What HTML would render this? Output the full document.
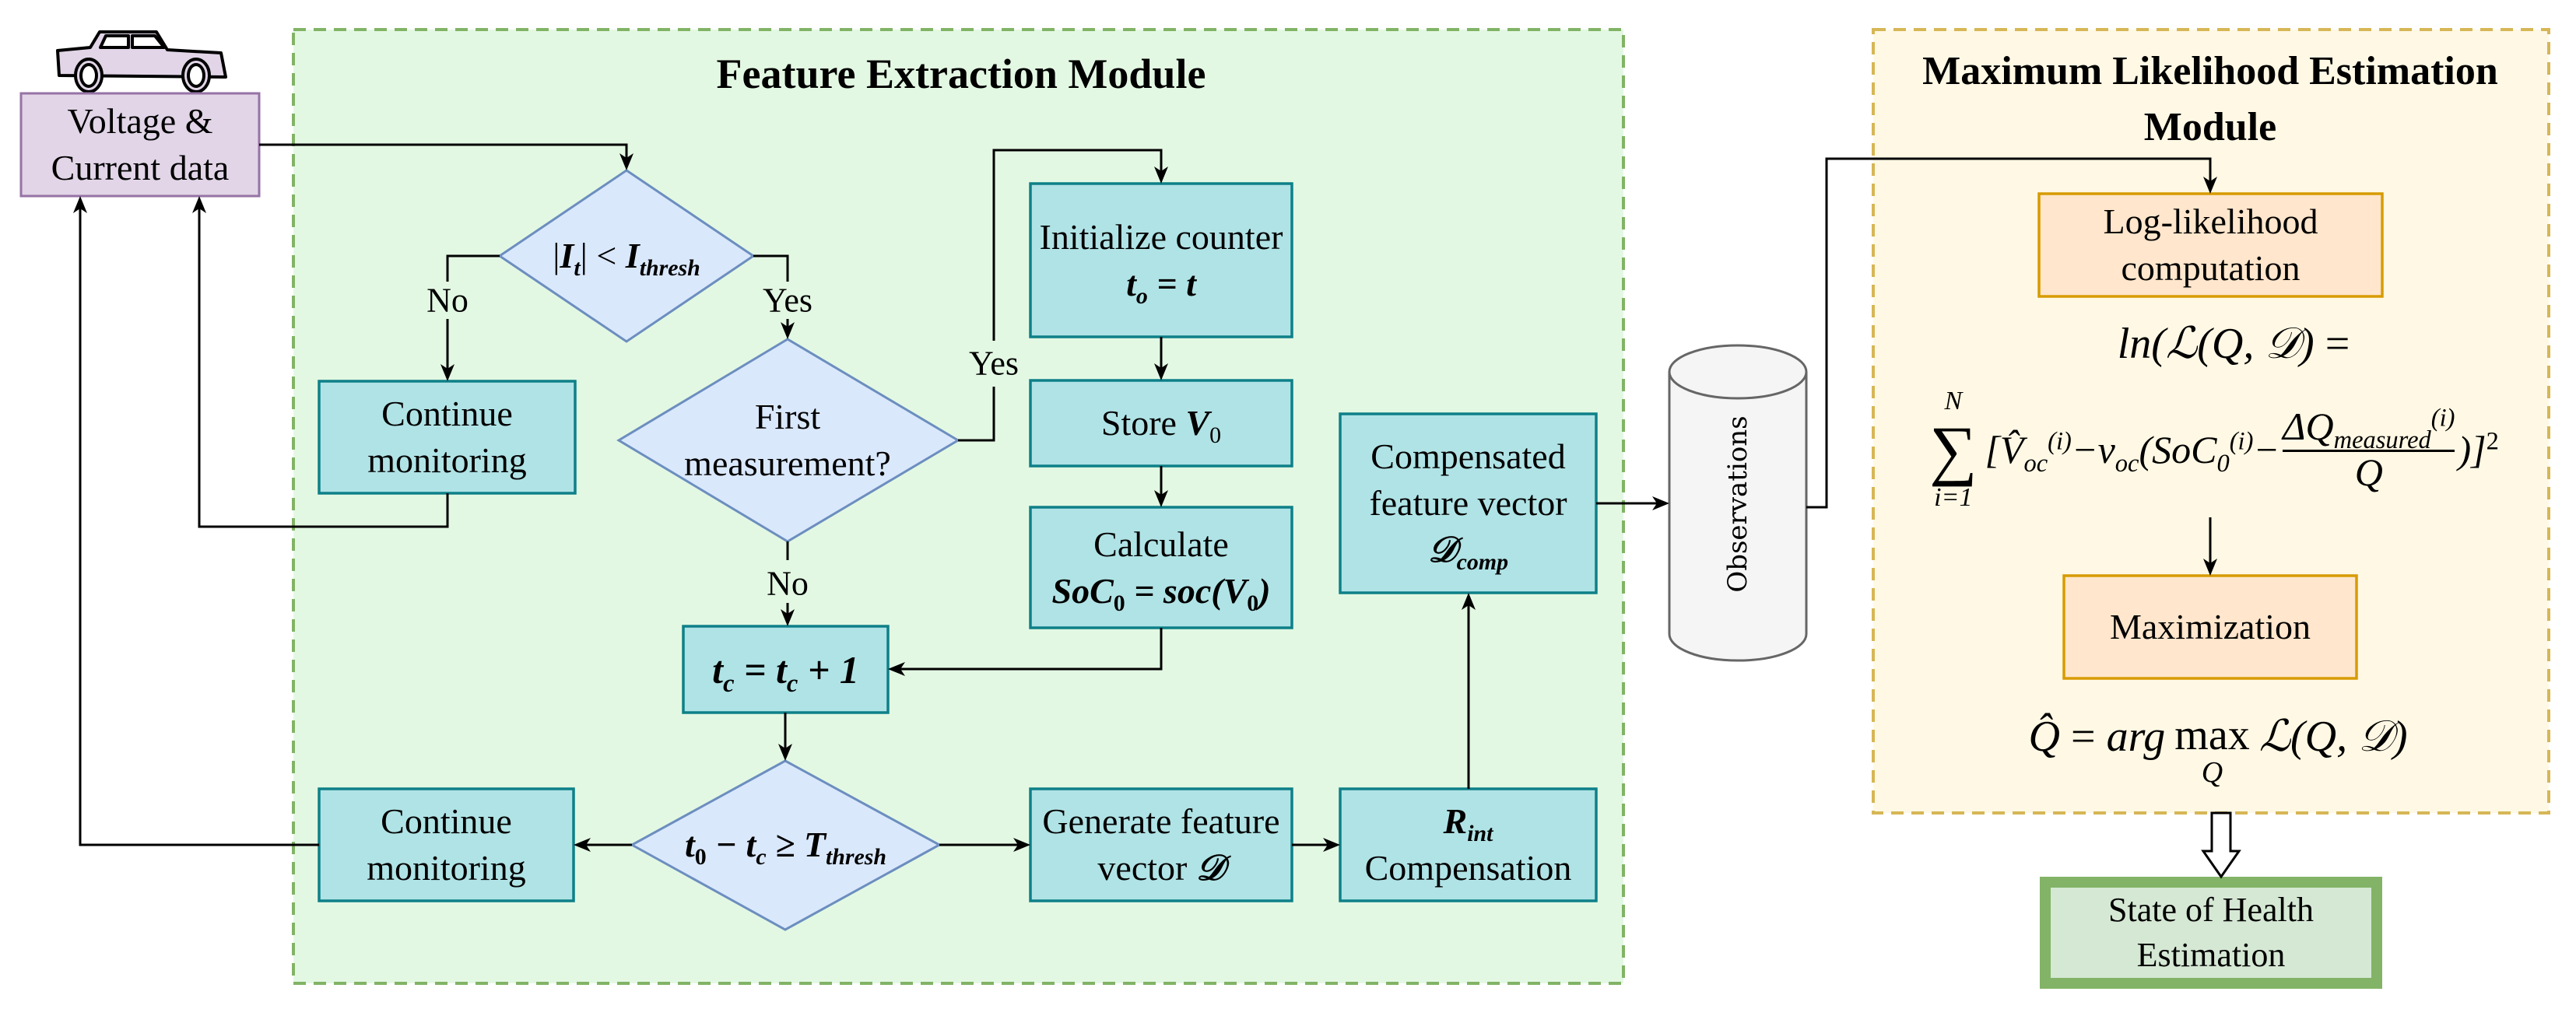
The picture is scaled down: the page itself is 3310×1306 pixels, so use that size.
<!DOCTYPE html>
<html><head><meta charset="utf-8"><style>
body{margin:0;background:#fff;}
#c{position:relative;width:3310px;height:1306px;overflow:hidden;font-family:"Liberation Serif","DejaVu Serif",serif;}
svg{position:absolute;left:0;top:0;}
.t{position:absolute;display:flex;flex-direction:column;align-items:center;justify-content:center;text-align:center;font-family:"Liberation Serif","DejaVu Serif",serif;font-size:46px;line-height:60px;color:#000;white-space:nowrap;}
.m{font-style:italic;font-weight:bold;}
.mi{font-style:italic;}
sub,sup{font-size:0.65em;line-height:0;}
.lbl{position:absolute;font-family:"Liberation Serif",serif;font-size:44px;transform:translate(-50%,-50%);white-space:nowrap;}
</style></head><body><div id="c">
<svg width="3310" height="1306" viewBox="0 0 3310 1306">
<rect x="377" y="38" width="1709" height="1226" fill="#e3f8e3" stroke="#82b366" stroke-width="4" stroke-dasharray="16,10"/>
<rect x="2407" y="38" width="868" height="1007" fill="#fff8e4" stroke="#d6b656" stroke-width="4" stroke-dasharray="16,10"/>
<!-- car -->
<g fill="#e1d5e7" stroke="#000" stroke-width="4" stroke-linejoin="round">
<path d="M74 65 L116 61 L128 41 L201 41 L215 64 L284 68 L290 99 L76 97 Z"/>
<path d="M129 61 L136 46 L165 46 L165 61 Z M170 61 L170 46 L199 46 L211 61 Z" fill="#fff"/>
<ellipse cx="114" cy="97" rx="17" ry="21"/><ellipse cx="114" cy="97" rx="10" ry="14" fill="#fff"/>
<ellipse cx="252" cy="97" rx="17" ry="21"/><ellipse cx="252" cy="97" rx="10" ry="14" fill="#fff"/>
</g>
<rect x="27" y="120" width="306" height="132" fill="#e1d5e7" stroke="#9673a6" stroke-width="3"/>
<g fill="#b0e3e6" stroke="#0e8088" stroke-width="3.5">
<rect x="410" y="490" width="329" height="144"/>
<rect x="1324" y="236" width="336" height="197"/>
<rect x="1324" y="489" width="336" height="110"/>
<rect x="1324" y="652" width="336" height="155"/>
<rect x="878" y="805" width="263" height="111"/>
<rect x="1722" y="532" width="329" height="230"/>
<rect x="410" y="1014" width="327" height="144"/>
<rect x="1324" y="1014" width="336" height="144"/>
<rect x="1722" y="1014" width="329" height="144"/>
</g>
<g fill="#dae8fc" stroke="#6c8ebf" stroke-width="3">
<polygon points="805,219 968,329 805,439 642,329"/>
<polygon points="1012,436 1231,566 1012,696 795,566"/>
<polygon points="1009,978 1207,1086 1009,1195 812,1086"/>
</g>
<path d="M2145 478 L2145 815 A88 34 0 0 0 2321 815 L2321 478" fill="#f5f5f5" stroke="#666" stroke-width="3"/>
<ellipse cx="2233" cy="478" rx="88" ry="34" fill="#f5f5f5" stroke="#666" stroke-width="3"/>
<g fill="#ffe6cc" stroke="#d79b00" stroke-width="3.5">
<rect x="2620" y="249" width="441" height="132"/>
<rect x="2652" y="740" width="376" height="132"/>
</g>
<rect x="2628" y="1134" width="426" height="130" fill="#d5e8d4" stroke="#82b366" stroke-width="14"/>
<path d="M2842 1045 L2866 1045 L2866 1094 L2877 1094 L2854 1127 L2831 1094 L2842 1094 Z" fill="#fff" stroke="#000" stroke-width="3"/>
<g fill="none" stroke="#000" stroke-width="3">
<polyline points="333,186 805,186 805,212"/>
<polyline points="642,329 575,329 575,362"/>
<line x1="575" y1="410" x2="575" y2="483"/>
<polyline points="968,329 1012,329 1012,362"/>
<line x1="1012" y1="410" x2="1012" y2="429"/>
<polyline points="575,634 575,677 256,677 256,259"/>
<polyline points="410,1086 103,1086 103,259"/>
<polyline points="1231,566 1277,566 1277,497"/>
<polyline points="1277,438 1277,193 1492,193 1492,229"/>
<line x1="1492" y1="433" x2="1492" y2="482"/>
<line x1="1492" y1="599" x2="1492" y2="645"/>
<polyline points="1492,807 1492,860 1148,860"/>
<line x1="1012" y1="696" x2="1012" y2="720"/>
<line x1="1012" y1="775" x2="1012" y2="798"/>
<line x1="1009" y1="916" x2="1009" y2="971"/>
<line x1="812" y1="1086" x2="744" y2="1086"/>
<line x1="1207" y1="1086" x2="1317" y2="1086"/>
<line x1="1660" y1="1086" x2="1715" y2="1086"/>
<line x1="1887" y1="1014" x2="1887" y2="769"/>
<line x1="2051" y1="647" x2="2138" y2="647"/>
<polyline points="2321,652 2347,652 2347,204 2840,204 2840,242"/>
<line x1="2840" y1="665" x2="2840" y2="733"/>
</g>
<g fill="#000">
<path d="M805 219 l-9 -22 l9 6 l9 -6 z"/>
<path d="M575 490 l-9 -22 l9 6 l9 -6 z"/>
<path d="M1012 436 l-9 -22 l9 6 l9 -6 z"/>
<path d="M256 252 l-9 22 l9 -6 l9 6 z"/>
<path d="M103 252 l-9 22 l9 -6 l9 6 z"/>
<path d="M1492 236 l-9 -22 l9 6 l9 -6 z"/>
<path d="M1492 489 l-9 -22 l9 6 l9 -6 z"/>
<path d="M1492 652 l-9 -22 l9 6 l9 -6 z"/>
<path d="M1141 860 l22 -9 l-6 9 l6 9 z"/>
<path d="M1012 805 l-9 -22 l9 6 l9 -6 z"/>
<path d="M1009 978 l-9 -22 l9 6 l9 -6 z"/>
<path d="M737 1086 l22 -9 l-6 9 l6 9 z"/>
<path d="M1324 1086 l-22 -9 l6 9 l-6 9 z"/>
<path d="M1722 1086 l-22 -9 l6 9 l-6 9 z"/>
<path d="M1887 762 l-9 22 l9 -6 l9 6 z"/>
<path d="M2145 647 l-22 -9 l6 9 l-6 9 z"/>
<path d="M2840 249 l-9 -22 l9 6 l9 -6 z"/>
<path d="M2840 740 l-9 -22 l9 6 l9 -6 z"/>
</g>
</svg>

<div class="t" style="left:870px;top:60px;width:730px;height:70px;font-weight:bold;font-size:54px;">Feature Extraction Module</div>
<div class="t" style="left:2410px;top:58px;width:860px;height:140px;font-weight:bold;font-size:52px;line-height:72px;"><div>Maximum Likelihood Estimation</div><div>Module</div></div>

<div class="t" style="left:27px;top:120px;width:306px;height:132px;"><div>Voltage &amp;</div><div>Current data</div></div>
<div class="t" style="left:642px;top:289px;width:326px;height:80px;font-size:46px;"><span><span>|</span><span class="m">I<sub>t</sub></span><span>|</span> &lt; <span class="m">I<sub>thresh</sub></span></span></div>
<div class="lbl" style="left:575px;top:386px;">No</div>
<div class="lbl" style="left:1012px;top:386px;">Yes</div>
<div class="lbl" style="left:1277px;top:467px;">Yes</div>
<div class="lbl" style="left:1012px;top:750px;">No</div>
<div class="t" style="left:410px;top:490px;width:329px;height:144px;"><div>Continue</div><div>monitoring</div></div>
<div class="t" style="left:830px;top:506px;width:364px;height:120px;"><div>First</div><div>measurement?</div></div>
<div class="t" style="left:1324px;top:236px;width:336px;height:197px;"><div>Initialize counter</div><div class="m">t<sub>o</sub> = t</div></div>
<div class="t" style="left:1324px;top:489px;width:336px;height:110px;"><div>Store <span class="m">V</span><sub>0</sub></div></div>
<div class="t" style="left:1324px;top:652px;width:336px;height:155px;"><div>Calculate</div><div class="m">SoC<sub style="font-style:normal">0</sub> = soc(V<sub style="font-style:normal">0</sub>)</div></div>
<div class="t" style="left:878px;top:805px;width:263px;height:111px;font-size:50px;"><div class="m">t<sub>c</sub> = t<sub>c</sub> + 1</div></div>
<div class="t" style="left:812px;top:1046px;width:395px;height:80px;font-size:46px;"><div class="m">t<sub style="font-style:normal">0</sub> − t<sub>c</sub> ≥ T<sub>thresh</sub></div></div>
<div class="t" style="left:410px;top:1014px;width:327px;height:144px;"><div>Continue</div><div>monitoring</div></div>
<div class="t" style="left:1324px;top:1014px;width:336px;height:144px;"><div>Generate feature</div><div>vector <span class="m">𝒟</span></div></div>
<div class="t" style="left:1722px;top:1014px;width:329px;height:144px;"><div class="m">R<sub>int</sub></div><div>Compensation</div></div>
<div class="t" style="left:1722px;top:532px;width:329px;height:230px;"><div>Compensated</div><div>feature vector</div><div class="m">𝒟<sub>comp</sub></div></div>
<div class="t" style="left:2083px;top:626px;width:300px;height:44px;transform:rotate(-90deg);font-family:'DejaVu Serif','Liberation Serif',serif;font-size:34px;">Observations</div>

<div class="t" style="left:2620px;top:249px;width:441px;height:132px;"><div>Log-likelihood</div><div>computation</div></div>
<div class="t" style="left:2580px;top:405px;width:580px;height:74px;font-size:56px;"><div class="mi">ln(ℒ(Q, 𝒟) <span style="font-style:normal">=</span></div></div>
<div class="t" style="left:2420px;top:490px;width:850px;height:175px;font-size:50px;">
<div style="display:flex;align-items:center;">
<div style="display:flex;flex-direction:column;align-items:center;line-height:44px;margin-right:10px;"><span class="mi" style="font-size:34px">N</span><span style="font-size:86px;line-height:80px;">∑</span><span class="mi" style="font-size:34px">i=1</span></div>
<span class="mi">[V̂<sub>oc</sub><sup>(i)</sup>−v<sub>oc</sub>(SoC<sub>0</sub><sup>(i)</sup>−</span>
<div style="display:inline-flex;flex-direction:column;align-items:center;line-height:52px;margin:0 4px;"><span class="mi" style="border-bottom:3px solid #000;padding-bottom:4px;">ΔQ<sub>measured</sub><sup>(i)</sup></span><span class="mi">Q</span></div>
<span class="mi">)]<sup style="font-style:normal">2</sup></span>
</div></div>
<div class="t" style="left:2652px;top:740px;width:376px;height:132px;"><div>Maximization</div></div>
<div class="t" style="left:2540px;top:905px;width:620px;height:120px;font-size:56px;"><div style="display:flex;align-items:flex-start;"><span class="mi">Q̂ <span style="font-style:normal">=</span> arg </span><span style="display:inline-flex;flex-direction:column;align-items:center;line-height:56px;margin:0 12px;">max<span class="mi" style="font-size:38px;line-height:40px;">Q</span></span><span class="mi"> ℒ(Q, 𝒟)</span></div></div>
<div class="t" style="left:2635px;top:1141px;width:412px;height:116px;font-size:44px;line-height:58px;"><div>State of Health</div><div>Estimation</div></div>
</div></body></html>
